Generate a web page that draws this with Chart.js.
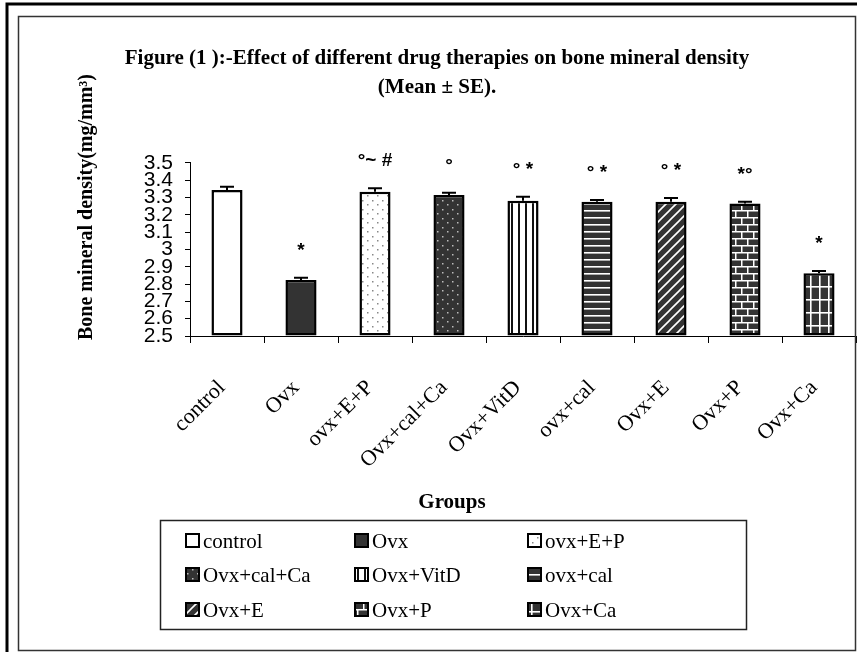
<!DOCTYPE html>
<html>
<head>
<meta charset="utf-8">
<script src="https://cdn.jsdelivr.net/npm/chart.js@4.4.0/dist/chart.umd.min.js"></script>
<style>
  body { margin: 0; background: #fff; }
  canvas { display: block; }
</style>
</head>
<body>
<canvas id="c" width="857" height="652"></canvas>
<script>
// data
const groups = ["control", "Ovx", "ovx+E+P", "Ovx+cal+Ca", "Ovx+VitD", "ovx+cal", "Ovx+E", "Ovx+P", "Ovx+Ca"];
const meanBMD = [3.344, 2.824, 3.334, 3.315, 3.282, 3.276, 3.276, 3.265, 2.862];
const seBMD = [0.019, 0.013, 0.020, 0.013, 0.023, 0.010, 0.022, 0.011, 0.014];
const signif = ["", "*", "°~ #", "°", "° *", "° *", "° *", "*°", "*"];
const yMin = 2.5;
const yMax = 3.5;
const yStep = 0.1;
const titleLines = ["Figure (1 ):-Effect of different drug therapies on bone mineral density", "(Mean ± SE)."];
const yTitle = "Bone mineral density(mg/mm³)";
const xTitle = "Groups";

const canvas = document.getElementById("c");
const ctx = canvas.getContext("2d");
const DARK = "#333333";

// patterns for the bars
function makePattern(w, h, bg, draw) {
  const c = document.createElement("canvas");
  c.width = w; c.height = h;
  const g = c.getContext("2d");
  g.fillStyle = bg;
  g.fillRect(0, 0, w, h);
  draw(g);
  return ctx.createPattern(c, "repeat");
}

const fills = [
  "#ffffff",
  DARK,
  makePattern(10, 9, "#ffffff", g => { g.fillStyle = "#888"; g.fillRect(2, 2, 1.5, 1.5); g.fillRect(7, 6, 1.5, 1.5); }),
  makePattern(10, 9, DARK, g => { g.fillStyle = "#bbb"; g.fillRect(2, 2, 1.5, 1.5); g.fillRect(7, 6, 1.5, 1.5); }),
  makePattern(7, 4, "#ffffff", g => { g.fillStyle = "#111"; g.fillRect(0, 0, 2, 4); }),
  makePattern(4, 7, DARK, g => { g.fillStyle = "#fff"; g.fillRect(0, 0, 4, 1.6); }),
  makePattern(10, 10, DARK, g => {
    g.strokeStyle = "#fff"; g.lineWidth = 1.6;
    g.beginPath();
    g.moveTo(-2, 12); g.lineTo(12, -2);
    g.moveTo(-2, 2); g.lineTo(2, -2);
    g.moveTo(8, 12); g.lineTo(12, 8);
    g.stroke();
  }),
  makePattern(12, 14, DARK, g => {
    g.fillStyle = "#fff";
    g.fillRect(0, 0, 12, 1.5); g.fillRect(0, 7, 12, 1.5);
    g.fillRect(3, 0, 1.5, 7); g.fillRect(9, 7, 1.5, 7);
  }),
  makePattern(9, 13, DARK, g => { g.fillStyle = "#fff"; g.fillRect(0, 0, 9, 1.6); g.fillRect(0, 0, 1.6, 13); })
];

// error bars and significance marks
const errorBars = {
  id: "errorBars",
  afterDatasetsDraw(chart) {
    const c = chart.ctx, y = chart.scales.y;
    const meta = chart.getDatasetMeta(0);
    c.save();
    c.strokeStyle = "#000";
    c.lineWidth = 2;
    meta.data.forEach((bar, i) => {
      const top = y.getPixelForValue(meanBMD[i] + seBMD[i]);
      c.beginPath();
      c.moveTo(bar.x, bar.y);
      c.lineTo(bar.x, top);
      c.moveTo(bar.x - 7, top);
      c.lineTo(bar.x + 7, top);
      c.stroke();
      c.fillStyle = "#000";
      c.font = "bold 19px 'Liberation Sans'";
      c.textAlign = "center";
      c.textBaseline = "alphabetic";
      c.fillText(signif[i], bar.x, top - 22);
    });
    c.restore();
  }
};

// axis titles, grid legend and frame
const extras = {
  id: "extras",
  afterDraw(chart) {
    const c = chart.ctx;
    c.save();
    c.fillStyle = "#000";
    // y title
    c.save();
    c.translate(87, 207);
    c.rotate(-Math.PI / 2);
    c.font = "bold 20px 'Liberation Serif'";
    c.textAlign = "center";
    c.textBaseline = "middle";
    c.fillText(yTitle, 0, 0);
    c.restore();
    // x title
    c.font = "bold 21px 'Liberation Serif'";
    c.textAlign = "center";
    c.textBaseline = "middle";
    c.fillText(xTitle, 452, 503);
    // legend
    c.strokeStyle = "#222";
    c.lineWidth = 1.5;
    c.strokeRect(160.5, 520.5, 586, 109);
    const colX = [186, 355, 528];
    const rowY = [541, 575, 610];
    c.font = "21px 'Liberation Serif'";
    c.textAlign = "left";
    groups.forEach((g, i) => {
      const x = colX[i % 3], yy = rowY[Math.floor(i / 3)];
      c.fillStyle = fills[i];
      c.fillRect(x, yy - 7, 13, 13);
      c.strokeStyle = "#000";
      c.lineWidth = 2;
      c.strokeRect(x, yy - 7, 13, 13);
      c.fillStyle = "#000";
      c.fillText(g, x + 17, yy + 1);
    });
    // frame
    c.strokeStyle = "#000";
    c.lineWidth = 3;
    c.beginPath();
    c.moveTo(7, 652); c.lineTo(7, 4); c.lineTo(857, 4);
    c.stroke();
    c.strokeStyle = "#333";
    c.lineWidth = 1.5;
    c.strokeRect(18.5, 16.5, 837, 634);
    c.restore();
  }
};

new Chart(canvas, {
  type: "bar",
  data: {
    labels: groups,
    datasets: [{
      data: meanBMD,
      base: yMin,
      backgroundColor: fills,
      borderColor: "#000",
      borderWidth: 2.5,
      borderSkipped: false,
      categoryPercentage: 1,
      barPercentage: 0.42
    }]
  },
  options: {
    responsive: false,
    animation: false,
    layout: { padding: { left: 18, right: 1, top: 0, bottom: 0 } },
    plugins: {
      legend: { display: false },
      tooltip: { enabled: false },
      title: {
        display: true,
        text: titleLines,
        color: "#000",
        font: { family: "'Liberation Serif'", size: 21, weight: "bold", lineHeight: 1.38 },
        padding: { top: 44, bottom: 61 }
      }
    },
    scales: {
      x: {
        afterFit(scale) {
          scale.height = 316;
          scale.paddingLeft = 0;
          scale.paddingRight = 0;
        },
        grid: { drawOnChartArea: false, tickLength: 7, color: "#000" },
        border: { color: "#000", width: 1 },
        ticks: {
          color: "#000",
          font: { family: "'Liberation Serif'", size: 22 },
          minRotation: 45,
          maxRotation: 45,
          padding: 32,
          labelOffset: -5,
          autoSkip: false
        }
      },
      y: {
        min: yMin,
        max: yMax,
        afterFit(scale) { scale.width = 172; },
        grid: { drawOnChartArea: false, tickLength: 5, color: "#000" },
        border: { color: "#000", width: 1 },
        ticks: {
          stepSize: yStep,
          autoSkip: false,
          color: "#000",
          padding: 12,
          font: { family: "'Liberation Sans'", size: 21 },
          callback: v => String(Math.round(v * 10) / 10)
        }
      }
    }
  },
  plugins: [errorBars, extras]
});
</script>
</body>
</html>
